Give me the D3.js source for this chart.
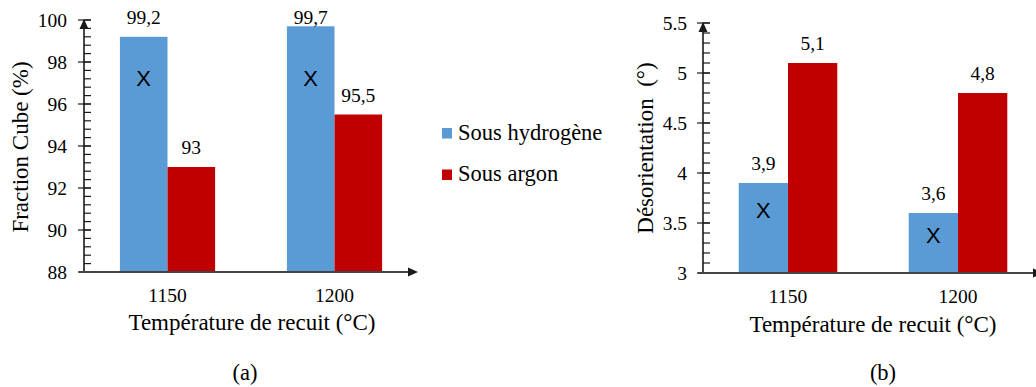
<!DOCTYPE html>
<html>
<head>
<meta charset="utf-8">
<script src="https://cdn.jsdelivr.net/npm/d3@7"></script>
<style>
  html, body { margin: 0; padding: 0; background: #fff; }
  svg text { font-family: "Liberation Serif", "Times New Roman", serif; fill: #000; }
</style>
</head>
<body>
<svg id="chart" width="1036" height="387"></svg>
<script>
// Annealing temperatures (°C) and the two atmospheres
const categories = ["1150", "1200"];
const series = ["Sous hydrogène", "Sous argon"];
const colors = ["#5B9BD5", "#C00000"];

// (a) Cube fraction (%)
const cubeHydrogen = [99.2, 99.7];
const cubeArgon = [93, 95.5];
const cubeTicks = [88, 90, 92, 94, 96, 98, 100];
const cubeMarkAt = [97.25, 97.25];   // height of the "X" marker on the hydrogen bars

// (b) Misorientation (°)
const misoHydrogen = [3.9, 3.6];
const misoArgon = [5.1, 4.8];
const misoTicks = [3, 3.5, 4, 4.5, 5, 5.5];
const misoMarkAt = [3.63, 3.38];

const SERIF = "'Liberation Serif', 'Times New Roman', serif";
const SANS = "'Liberation Sans', Arial, sans-serif";
const svg = d3.select("#chart");
const decimalComma = v => String(v).replace(".", ",");

function panel(opt) {
  const g = svg.append("g");
  const x0 = d3.scaleBand().domain(categories).range(opt.xRange)
    .paddingInner(opt.padInner).paddingOuter(opt.padInner / 2);
  const x1 = d3.scaleBand().domain(series).range([0, x0.bandwidth()]);
  const y = d3.scaleLinear().domain(opt.domain).range(opt.yRange);
  const rows = categories.map((c, i) => ({
    cat: c,
    vals: [opt.h2[i], opt.ar[i]],
    mark: opt.mark[i]
  }));

  // bars
  const grp = g.selectAll("g.cat").data(rows).join("g")
    .attr("transform", d => `translate(${x0(d.cat)},0)`);
  grp.selectAll("rect").data(d => d.vals.map((v, k) => ({ v, s: series[k], k })))
    .join("rect")
    .attr("x", d => x1(d.s))
    .attr("width", x1.bandwidth())
    .attr("y", d => y(d.v))
    .attr("height", d => y(opt.domain[0]) - y(d.v))
    .attr("fill", d => colors[d.k]);
  // value labels, kept inside the plot area at the top
  grp.selectAll("text.val").data(d => d.vals.map((v, k) => ({ v, s: series[k] })))
    .join("text").attr("class", "val")
    .attr("x", d => x1(d.s) + x1.bandwidth() / 2)
    .attr("y", d => Math.max(y(d.v) - 13, opt.yRange[1] + 4))
    .attr("text-anchor", "middle")
    .attr("font-family", SERIF)
    .style("font-size", "19.5px")
    .text(d => decimalComma(d.v));
  // X markers
  grp.append("text")
    .attr("x", x1(series[0]) + x1.bandwidth() / 2)
    .attr("y", d => y(d.mark))
    .attr("dy", "0.36em")
    .attr("text-anchor", "middle")
    .attr("font-family", SANS)
    .style("font-family", SANS)
    .style("font-size", "22px")
    .text("X");

  // y axis: labels from d3.axisLeft, ticks drawn crossing the line
  const ax = opt.xRange[0];
  const yAxis = g.append("g").attr("transform", `translate(${ax},0)`)
    .call(d3.axisLeft(y).tickValues(opt.ticks).tickSize(0).tickPadding(opt.labelPad)
      .tickFormat(opt.fmt));
  yAxis.attr("font-family", SERIF);
  yAxis.select(".domain").remove();
  yAxis.selectAll("text").style("font-family", SERIF)
    .style("font-size", "19.5px").attr("fill", "#000");

  const axisColor = "#1a1a1a";
  const minor = d3.range(opt.domain[0], opt.domain[1] + 1e-9, opt.minorStep);
  g.selectAll("line.minor").data(minor).join("line")
    .attr("x1", ax).attr("x2", ax + 7)
    .attr("y1", d => y(d)).attr("y2", d => y(d))
    .attr("stroke", axisColor).attr("stroke-width", 1.2);
  g.selectAll("line.major").data(opt.ticks).join("line")
    .attr("x1", ax - 6).attr("x2", ax + 7)
    .attr("y1", d => y(d)).attr("y2", d => y(d))
    .attr("stroke", axisColor).attr("stroke-width", 1.2);
  const yTop = y(opt.domain[1]), yBot = y(opt.domain[0]);
  g.append("line").attr("x1", ax).attr("x2", ax).attr("y1", yTop).attr("y2", yBot + 1)
    .attr("stroke", axisColor).attr("stroke-width", 1.6);
  g.append("path")
    .attr("d", `M${ax},${yTop - 1} L${ax - 4.5},${yTop + 9} L${ax + 4.5},${yTop + 9} Z`)
    .attr("fill", axisColor);

  // x axis with arrow
  const xEnd = opt.xRange[1];
  g.append("line").attr("x1", ax - 5).attr("x2", xEnd - 6).attr("y1", yBot).attr("y2", yBot)
    .attr("stroke", "#444").attr("stroke-width", 1.8);
  g.append("path")
    .attr("d", `M${xEnd},${yBot} L${xEnd - 10},${yBot - 4.5} L${xEnd - 10},${yBot + 4.5} Z`)
    .attr("fill", axisColor);

  const xAxis = g.append("g").attr("transform", `translate(0,${yBot})`)
    .call(d3.axisBottom(x0).tickSize(0).tickPadding(16));
  xAxis.attr("font-family", SERIF);
  xAxis.select(".domain").remove();
  xAxis.selectAll("text").style("font-family", SERIF)
    .style("font-size", "19.5px").attr("fill", "#000");

  // titles
  g.append("text").attr("x", opt.xTitleX).attr("y", opt.xTitleY)
    .attr("text-anchor", "middle").attr("font-family", SERIF).style("font-size", "23px")
    .text("Température de recuit (°C)");
  g.append("text")
    .attr("transform", `translate(${opt.yTitleX},${opt.yTitleY}) rotate(-90)`)
    .attr("text-anchor", "middle").attr("font-family", SERIF).style("font-size", "23px")
    .style("white-space", "pre")
    .text(opt.yTitle);
  g.append("text").attr("x", opt.tagX).attr("y", 380)
    .attr("text-anchor", "middle").attr("font-family", SERIF).style("font-size", "22.5px")
    .text(opt.tag);
}

panel({
  xRange: [84, 418], padInner: 0.43,
  domain: [88, 100], yRange: [272, 20],
  h2: cubeHydrogen, ar: cubeArgon, mark: cubeMarkAt,
  ticks: cubeTicks, minorStep: 0.4, fmt: d3.format("d"), labelPad: 17,
  xTitleX: 252, xTitleY: 330,
  yTitle: "Fraction Cube (%)", yTitleX: 28, yTitleY: 147,
  tag: "(a)", tagX: 245
});

panel({
  xRange: [703, 1043], padInner: 0.42,
  domain: [3, 5.5], yRange: [273, 23],
  h2: misoHydrogen, ar: misoArgon, mark: misoMarkAt,
  ticks: misoTicks, minorStep: 0.1, fmt: d => String(d), labelPad: 16,
  xTitleX: 873, xTitleY: 332,
  yTitle: "Désorientation  (°)", yTitleX: 653, yTitleY: 148,
  tag: "(b)", tagX: 883
});

// legend
const legend = svg.append("g").attr("transform", "translate(442,128)");
const item = legend.selectAll("g").data(series).join("g")
  .attr("transform", (d, i) => `translate(0,${i * 41.5})`);
item.append("rect").attr("width", 10).attr("height", 10.5)
  .attr("fill", (d, i) => colors[i]);
item.append("text").attr("x", 16).attr("y", 11.5)
  .attr("font-family", SERIF).style("font-size", "22.5px").text(d => d);
</script>
</body>
</html>
